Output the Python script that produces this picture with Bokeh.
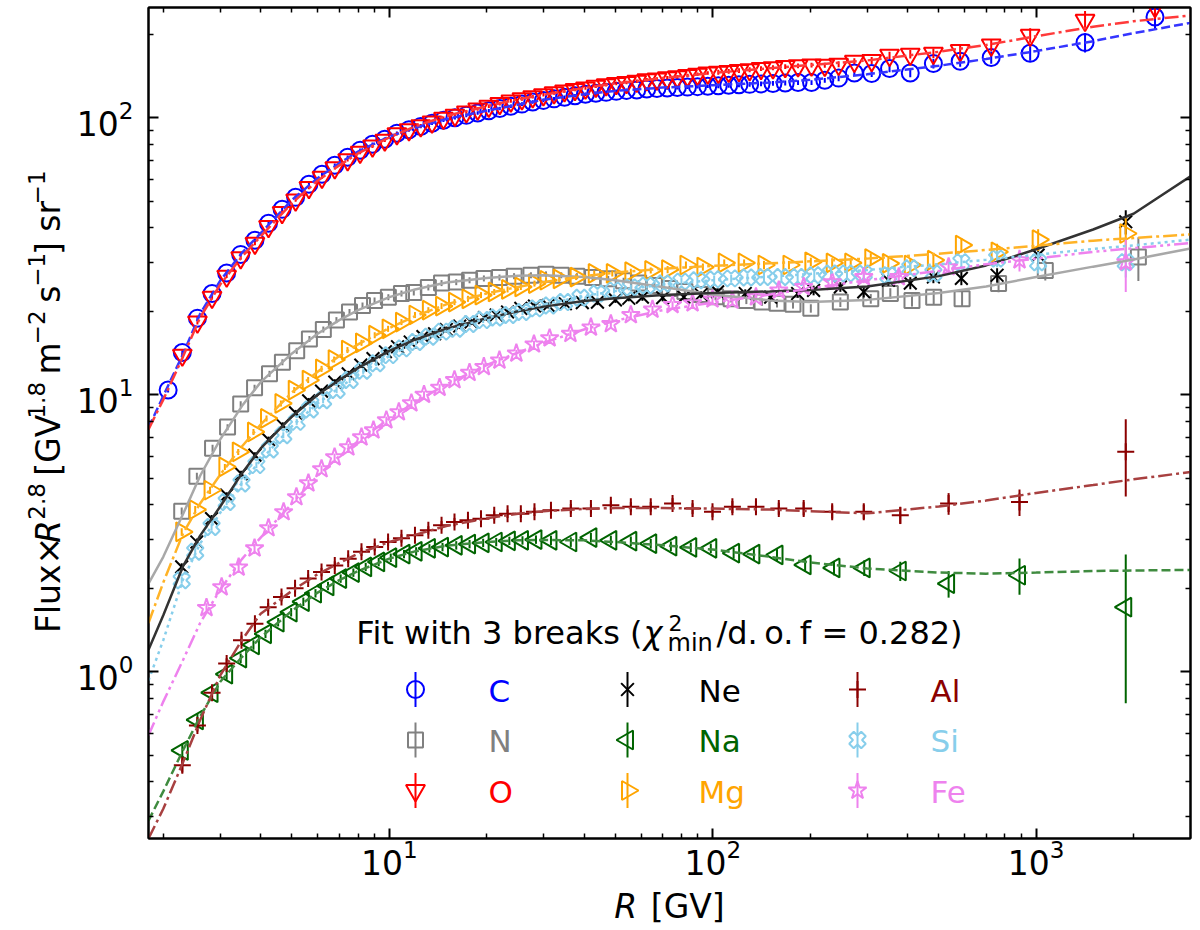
import numpy as np
from bokeh.plotting import figure
from bokeh.layouts import column, row
from bokeh.models import LogAxis, FixedTicker, Label, CustomJSTickFormatter
from bokeh.core.properties import value
from bokeh.embed import file_html
from bokeh.resources import INLINE

# ---- data: rigidity R [GV], Flux x R^2.8, relative error [%] ----
R_C = [2.07, 2.29, 2.55, 2.83, 3.14, 3.47, 3.84, 4.23, 4.66, 5.13,
       5.64, 6.19, 6.78, 7.43, 8.12, 8.87, 9.68, 10.55, 11.5, 12.5,
       13.55, 14.7, 15.95, 17.3, 18.75, 20.3, 21.95, 23.75, 25.7, 27.75,
       29.95, 32.3, 34.8, 37.5, 40.4, 43.5, 46.8, 50.3, 54.1, 58.2,
       62.5, 67.2, 72.3, 77.7, 83.5, 89.7, 96.5, 104, 112, 120.5,
       130, 141, 153.5, 167.5, 183.5, 202, 222, 245, 274, 310,
       352, 408, 481, 582, 726, 958, 1416, 2330]
F_C = [10.4, 14.2, 18.9, 23.2, 27.5, 32.1, 36.1, 41.6, 46.7, 51.6,
       57.5, 62.5, 67.4, 72.0, 76.3, 80.2, 83.6, 87.9, 90.5, 93,
       95.5, 98, 100, 102, 104, 106, 108, 110, 112, 114,
       115.5, 117, 118.5, 120, 121.5, 122.5, 123.5, 124.5, 125.5, 126,
       127, 127.5, 128, 128.5, 129, 129.5, 130, 130.5, 131, 131.5,
       132, 132.5, 133, 133.5, 134, 134, 136.5, 139, 145, 144.5,
       150.6, 145, 157, 160, 165, 171, 187, 231]
E_C = [2, 2, 2, 2, 1.5, 1.5, 1.5, 1.5, 1.5, 1.5,
       1.5, 1.5, 1.5, 1.5, 1.5, 1.5, 1.5, 1.5, 1.5, 1.5,
       1.5, 1.5, 1.5, 1.5, 1.5, 1.5, 1.5, 1.5, 1.5, 1.5,
       1.5, 1.5, 1.5, 1.5, 1.5, 1.5, 1.5, 1.5, 1.5, 1.5,
       1.5, 1.5, 1.5, 1.5, 1.5, 1.5, 1.5, 2, 2, 2,
       2, 2, 2, 2, 2, 2, 2, 2.5, 2.5, 3,
       3, 3.5, 4, 4.5, 5, 6, 8, 10]

R_O = R_C[1:]
F_O = [13.9, 18.3, 22.5, 26.8, 31.2, 35.2, 40.5, 45.5, 50.5, 56,
       61, 66, 70.5, 75, 79, 83, 87.5, 90.5, 93.5, 96.5,
       99.5, 102, 105, 107.5, 110, 112.5, 115, 117, 119, 121,
       123, 125, 126.5, 128, 130, 131.5, 133, 134, 135.5, 137,
       138, 139.5, 140.5, 142, 143.5, 145, 146, 147, 148, 149,
       150.5, 151.5, 153, 154, 155, 154.7, 156, 160, 161, 168,
       169.6, 171, 175, 183, 198.6, 225, 252]
E_O = E_C[1:]

R_N = [2.28, 2.54, 2.84, 3.16, 3.47, 3.83, 4.26, 4.67, 5.17, 5.66,
       6.25, 6.86, 7.53, 8.26, 9.0, 9.93, 10.9, 11.9, 13.2, 14.5,
       16.1, 17.7, 19.6, 21.9, 24.3, 27.4, 30.5, 34, 38, 42.5,
       47.5, 53, 59, 66, 73.5, 82, 91.5, 102, 114, 127,
       142, 158, 177, 201, 248, 308, 354, 413, 482, 590,
       765, 1067, 2070]
F_N = [3.80, 5.08, 6.41, 7.64, 9.25, 10.6, 11.9, 13.1, 14.4, 15.9,
       17.2, 18.6, 19.9, 21.0, 21.9, 22.5, 23.2, 23.4, 24.4, 25.3,
       25.5, 25.9, 26.3, 26.5, 26.8, 27.0, 27.2, 27.0, 26.8, 26.5,
       26.2, 25.8, 25.3, 24.8, 24.2, 23.6, 23.0, 22.6, 22.2, 21.9,
       21.6, 21.4, 21.2, 20.5, 21.6, 22.2, 23.2, 21.9, 22.5, 22.2,
       25.2, 28.1, 31.4]
E_N = [3, 3, 3, 2.5, 2.5, 2.5, 2.5, 2.5, 2.5, 2.5,
       2.5, 2.5, 2.5, 2.5, 2.5, 2.5, 2.5, 2.5, 2.5, 2.5,
       2.5, 2.5, 2.5, 2.5, 2.5, 2.5, 2.5, 2.5, 2.5, 2.5,
       2.5, 2.5, 2.5, 2.5, 2.5, 3, 3, 3, 3, 3,
       3, 3.5, 3.5, 3.5, 4, 4, 4.5, 5, 5.5, 6,
       7, 8, 18]

R_NE = [2.28, 2.54, 2.82, 3.14, 3.48, 3.84, 4.23, 4.68, 5.13, 5.63,
        6.17, 6.78, 7.46, 8.16, 8.9, 9.72, 10.6, 11.6, 12.7, 13.8,
        15.0, 16.5, 17.9, 19.7, 21.4, 23.2, 25.5, 28.1, 31, 35,
        39.5, 44, 50, 55, 60.6, 70, 81.4, 92, 103.5, 126,
        151, 183, 205, 248, 293, 349, 408, 481, 587, 757,
        1014, 1892]
F_NE = [2.39, 2.94, 3.57, 4.34, 5.19, 6.05, 6.89, 7.76, 8.60, 9.50,
        10.3, 11.1, 11.9, 12.8, 13.5, 14.3, 14.9, 15.5, 16.2, 16.6,
        17.2, 17.7, 18.3, 19.0, 19.4, 19.9, 20.5, 20.9, 21.0, 21.3,
        21.5, 21.6, 22.0, 22.3, 22.5, 22.4, 22.5, 23.0, 23.5, 23.2,
        22.5, 23.2, 23.8, 24.5, 23.5, 25.9, 25.3, 26.6, 26.3, 27.0,
        31.9, 42.1]
E_NE = [3, 3, 3, 2.5, 2.5, 2.5, 2.5, 2.5, 2.5, 2.5,
        2.5, 2.5, 2.5, 2.5, 2.5, 2.5, 2.5, 2.5, 2.5, 2.5,
        2.5, 2.5, 2.5, 2.5, 2.5, 2.5, 2.5, 2.5, 2.5, 2.5,
        2.5, 2.5, 2.5, 2.5, 3, 3, 3, 3, 3, 3.5,
        3.5, 3.5, 4, 4, 4.5, 4.5, 5, 5, 5.5, 6,
        7, 10]

R_NA = [2.29, 2.55, 2.83, 3.14, 3.47, 3.80, 4.14, 4.53, 4.97, 5.42,
        5.91, 6.46, 7.07, 7.74, 8.45, 9.27, 10.1, 11.1, 12.1, 13.3,
        14.6, 16.1, 17.7, 19.5, 21.4, 23.5, 25.8, 28.4, 31.6, 36.4,
        42.0, 48.4, 55.8, 64.3, 74.2, 85.5, 98.6, 116, 134, 158,
        193, 237, 294, 380, 536, 888, 1892]
F_NA = [0.52, 0.67, 0.84, 0.98, 1.12, 1.25, 1.37, 1.51, 1.64, 1.79,
        1.92, 2.04, 2.17, 2.28, 2.39, 2.49, 2.58, 2.66, 2.72, 2.79,
        2.82, 2.86, 2.89, 2.92, 2.94, 2.97, 2.98, 3.00, 2.98, 2.94,
        3.05, 2.98, 2.96, 2.90, 2.84, 2.81, 2.79, 2.68, 2.66, 2.64,
        2.43, 2.37, 2.37, 2.31, 2.08, 2.23, 1.71]
E_NA = [6, 5, 5, 4.5, 4, 4, 3.5, 3.5, 3.5, 3.5,
        3.5, 3.5, 3.5, 3.5, 3.5, 3.5, 3.5, 3.5, 3.5, 3.5,
        3.5, 3.5, 3.5, 3.5, 3.5, 3.5, 3.5, 3.5, 4, 4,
        4, 4, 4, 4, 4, 4, 4, 4.5, 5, 5,
        5.5, 6, 6.5, 8, 11, 15, 55]

R_MG = [2.28, 2.51, 2.79, 3.10, 3.41, 3.80, 4.17, 4.62, 5.08, 5.61,
        6.17, 6.75, 7.42, 8.2, 9.01, 9.91, 10.9, 12.0, 13.2, 14.5,
        15.9, 17.5, 19.2, 21.1, 23.2, 25.5, 28.1, 30.5, 33.5, 37.8,
        43.0, 48.9, 55.8, 64.3, 72.5, 82.6, 93.2, 108.5, 125, 144,
        172, 201, 234, 267, 308, 349, 408, 481, 587, 757,
        1014, 1892]
F_MG = [3.20, 3.85, 4.52, 5.49, 6.22, 7.34, 8.21, 9.30, 10.4, 11.3,
        12.4, 13.4, 14.5, 15.4, 16.4, 17.3, 18.3, 19.4, 20.2, 20.9,
        21.6, 22.2, 22.9, 23.5, 24.0, 24.5, 25.2, 25.9, 26.2, 26.6,
        27.4, 27.4, 27.8, 28.1, 28.3, 29.4, 28.9, 29.9, 29.9, 29.4,
        29.4, 30.2, 29.9, 29.9, 31.0, 29.8, 29.4, 30.6, 34.7, 32.8,
        36.3, 38.2]
E_MG = [3, 3, 3, 2.5, 2.5, 2.5, 2.5, 2.5, 2.5, 2.5,
        2.5, 2.5, 2.5, 2.5, 2.5, 2.5, 2.5, 2.5, 2.5, 2.5,
        2.5, 2.5, 2.5, 2.5, 2.5, 2.5, 2.5, 2.5, 2.5, 2.5,
        2.5, 2.5, 2.5, 2.5, 3, 3, 3, 3, 3, 3.5,
        3.5, 3.5, 4, 4, 4.5, 4.5, 5, 5.5, 6, 7,
        9, 14]

R_AL = [2.29, 2.55, 2.83, 3.14, 3.49, 3.84, 4.22, 4.64, 5.11, 5.61,
        6.17, 6.78, 7.46, 8.2, 9.01, 9.91, 10.9, 12.0, 13.2, 14.5,
        15.9, 17.5, 19.2, 21.1, 23.2, 25.5, 28.1, 31.6, 36.4, 42.0,
        48.4, 55.8, 64.3, 75.1, 86.6, 99.8, 115, 136, 160, 191,
        234, 293, 380, 536, 888, 1892]
F_AL = [0.46, 0.64, 0.84, 1.07, 1.30, 1.49, 1.71, 1.86, 2.00, 2.17,
        2.29, 2.42, 2.56, 2.71, 2.82, 2.94, 3.03, 3.11, 3.24, 3.38,
        3.47, 3.52, 3.57, 3.67, 3.72, 3.72, 3.78, 3.83, 3.88, 3.88,
        3.99, 3.94, 3.94, 4.05, 3.88, 3.78, 3.94, 3.94, 3.88, 3.88,
        3.78, 3.78, 3.67, 4.05, 4.10, 6.22]
E_AL = [6, 5, 5, 4.5, 4, 4, 3.5, 3.5, 3.5, 3.5,
        3.5, 3.5, 3.5, 3.5, 3.5, 3.5, 3.5, 3.5, 3.5, 3.5,
        3.5, 3.5, 3.5, 3.5, 3.5, 3.5, 3.5, 4, 4, 4,
        4, 4, 4, 4.5, 4.5, 4.5, 5, 5, 5, 5.5,
        5.5, 6, 7, 9, 11, 31]

R_SI = [2.28, 2.51, 2.82, 3.14, 3.49, 3.88, 4.27, 4.70, 5.17, 5.68,
        6.24, 6.87, 7.54, 8.30, 9.12, 10.0, 11.0, 12.1, 13.3, 14.6,
        16.1, 17.7, 19.5, 21.4, 23.5, 25.8, 28.4, 31.3, 34.7, 39,
        44, 49.5, 55.8, 62.5, 70.6, 80, 89.6, 101, 114, 128,
        144, 163, 183, 206, 232, 260, 293, 349, 408, 481,
        587, 757, 1014, 1892]
F_SI = [2.14, 2.71, 3.33, 4.10, 4.78, 5.57, 6.34, 7.14, 7.98, 8.84,
        9.55, 10.4, 11.3, 12.2, 13.0, 13.9, 14.7, 15.5, 16.2, 16.9,
        17.3, 18.0, 18.6, 19.0, 19.4, 19.9, 20.5, 21.0, 21.6, 22.4,
        23.2, 23.8, 24.4, 24.8, 25.2, 25.6, 25.9, 26.1, 26.3, 26.5,
        26.6, 26.6, 26.6, 27.0, 27.4, 27.4, 27.4, 27.0, 28.6, 27.4,
        30.1, 31.0, 30.1, 30.1]
E_SI = [3, 3, 3, 2.5, 2.5, 2.5, 2.5, 2.5, 2.5, 2.5,
        2.5, 2.5, 2.5, 2.5, 2.5, 2.5, 2.5, 2.5, 2.5, 2.5,
        2.5, 2.5, 2.5, 2.5, 2.5, 2.5, 2.5, 2.5, 2.5, 2.5,
        2.5, 2.5, 2.5, 2.5, 3, 3, 3, 3, 3, 3,
        3.5, 3.5, 3.5, 4, 4, 4, 4.5, 4.5, 5, 5,
        6, 7, 9, 12]

R_FE = [2.72, 3.03, 3.42, 3.83, 4.23, 4.71, 5.16, 5.62, 6.17, 6.77,
        7.47, 8.20, 8.93, 9.79, 10.7, 11.7, 12.8, 14.3, 15.9, 17.7,
        19.6, 21.9, 24.7, 28.0, 31.3, 36.3, 42.0, 48.4, 55.8, 65.1,
        75.1, 86.6, 99.8, 115, 136, 160, 191, 234, 293, 376,
        536, 888, 1892]
F_FE = [1.70, 2.02, 2.38, 2.79, 3.30, 3.77, 4.27, 4.79, 5.39, 5.95,
        6.46, 7.02, 7.44, 8.09, 8.65, 9.32, 10.0, 10.6, 11.3, 12.0,
        12.6, 13.3, 14.1, 15.2, 16.0, 16.6, 17.5, 18.0, 19.4, 20.3,
        21.1, 21.4, 22.1, 21.9, 22.5, 23.8, 24.5, 25.5, 26.6, 26.6,
        28.9, 30.6, 30.1]
E_FE = [4, 4, 3.5, 3.5, 3, 3, 3, 3, 3, 3,
        3, 3, 3, 3, 3, 3, 3, 3, 3, 3,
        3, 3, 3, 3, 3, 3, 3, 3, 3, 3,
        3, 3, 3.5, 3.5, 3.5, 4, 4, 4.5, 5, 5.5,
        6, 9, 22]

# fitted curves (3 breaks)
R_FIT = [1.8, 2, 2.3, 2.6, 3, 3.5, 4, 5, 6, 7,
         8, 10, 12, 15, 20, 25, 30, 40, 50, 70,
         100, 150, 200, 300, 500, 700, 1000, 1500, 2000, 3000]
FIT_C = [7.6, 9.9, 14.0, 19.6, 25.8, 32.5, 38.3, 50.5, 60.5, 68.5,
         75.5, 85.5, 92, 99, 106, 111.5, 116, 121.5, 125, 128.5,
         131, 134, 137, 143.5, 154, 163, 174, 189, 202, 220]
FIT_O = [7.5, 9.6, 13.7, 19.0, 25.0, 31.5, 37.3, 49.2, 59.2, 67.3,
         74.3, 85, 93, 101.5, 110, 116.5, 121, 128, 133, 139,
         145, 151, 155, 161, 173, 183, 197, 213, 223, 234]
FIT_N = [2.08, 2.6, 3.7, 5.1, 6.9, 9.1, 11.1, 14.1, 16.6, 18.6,
         20.2, 22.5, 24.0, 25.4, 26.4, 26.9, 27.0, 26.6, 25.9, 24.5,
         23.0, 21.9, 21.6, 22.0, 23.3, 24.6, 26.6, 29.0, 30.8, 33.7]
FIT_NE = [1.2, 1.6, 2.4, 3.1, 3.95, 5.2, 6.4, 8.35, 10.0, 11.3,
          12.5, 14.4, 15.8, 17.3, 18.9, 20.0, 20.8, 21.8, 22.3, 22.9,
          23.3, 23.6, 23.9, 24.6, 26.8, 29.3, 33.5, 39.5, 45, 61.5]
FIT_NA = [0.29, 0.37, 0.52, 0.69, 0.92, 1.13, 1.33, 1.66, 1.93, 2.14,
          2.31, 2.56, 2.72, 2.85, 2.94, 2.98, 2.99, 2.98, 2.94, 2.86,
          2.76, 2.6, 2.48, 2.36, 2.28, 2.26, 2.28, 2.31, 2.32, 2.33]
FIT_MG = [1.5, 2.1, 3.15, 4.05, 5.15, 6.5, 7.8, 10.2, 12.1, 13.8,
          15.2, 17.4, 19.2, 21.2, 23.2, 24.5, 25.5, 26.8, 27.6, 28.5,
          29.2, 29.8, 30.3, 31.0, 32.3, 33.3, 34.5, 36.0, 36.8, 37.9]
FIT_AL = [0.25, 0.32, 0.47, 0.67, 0.97, 1.30, 1.62, 1.96, 2.25, 2.47,
          2.67, 2.94, 3.12, 3.36, 3.58, 3.72, 3.8, 3.87, 3.9, 3.9,
          3.88, 3.85, 3.8, 3.73, 3.95, 4.15, 4.42, 4.72, 4.95, 5.26]
FIT_SI = [0.93, 1.3, 2.15, 2.9, 3.75, 4.8, 5.8, 7.7, 9.3, 10.6,
          11.8, 13.8, 15.4, 17.0, 18.9, 20.2, 21.2, 22.7, 23.7, 25.0,
          25.9, 26.7, 27.3, 28.2, 29.6, 30.7, 32.0, 33.6, 34.6, 36.3]
FIT_FE = [0.59, 0.78, 1.1, 1.5, 1.98, 2.55, 3.05, 4.05, 5.1, 6.0,
          6.8, 8.2, 9.4, 10.9, 12.8, 14.2, 15.4, 17.2, 18.5, 20.2,
          21.5, 23.0, 24.2, 25.9, 28.0, 29.6, 31.0, 32.8, 33.8, 35.3]

# legend order follows the columns of the reference (C, N, O | Ne, Na, Mg | Al, Si, Fe)
SERIES = [
    # name, R, F, err, colour, marker, size, angle, fit, fit colour, fit dash
    ("C", R_C, F_C, E_C, "blue", "circle", 17, 0, FIT_C, "#3535ff", "9 4"),
    ("N", R_N, F_N, E_N, "grey", "square", 15, 0, FIT_N, "#a8a8a8", "solid"),
    ("O", R_O, F_O, E_O, "red", "inverted_triangle", 19, 0, FIT_O, "#ff3a3a", "14 4 3 4"),
    ("Ne", R_NE, F_NE, E_NE, "black", "x", 18, 0, FIT_NE, "#333333", "solid"),
    ("Na", R_NA, F_NA, E_NA, "darkgreen", "triangle", 19, np.pi / 2, FIT_NA, "#3f8b3f", "9 4"),
    ("Mg", R_MG, F_MG, E_MG, "orange", "triangle", 19, -np.pi / 2, FIT_MG, "#ffb327", "14 4 3 4"),
    ("Al", R_AL, F_AL, E_AL, "darkred", "cross", 17, 0, FIT_AL, "#a84040", "14 4 3 4"),
    ("Si", R_SI, F_SI, E_SI, "skyblue", "plus", 17, np.pi / 4, FIT_SI, "#87ceeb", "3 4"),
    ("Fe", R_FE, F_FE, E_FE, "violet", "star", 19, 0, FIT_FE, "#ee82ee", "14 4 3 4 3 4"),
]

XMIN, XMAX = 1.8, 3000
YMIN, YMAX = 0.25, 250
FW, FH = 1042, 831
FONT = "DejaVu Sans"
YLAB_W = 68              # strip left of the plot holding the y label
TOP, BOTTOM, RIGHT = 7, 50, 8
LEFT = 148 - YLAB_W
MAIN_H = TOP + FH + BOTTOM
TOTAL_W = YLAB_W + LEFT + FW + RIGHT
XLAB_H = 930 - MAIN_H
BASE_FIX = 0.33          # empirical lift for alphabetic baselines (em)

p = figure(x_axis_type="log", y_axis_type="log",
           x_range=(XMIN, XMAX), y_range=(YMIN, YMAX),
           frame_width=FW, frame_height=FH,
           min_border_left=LEFT, min_border_right=RIGHT,
           min_border_top=TOP, min_border_bottom=BOTTOM,
           output_backend="svg", toolbar_location=None)
p.grid.visible = False
p.outline_line_color = "black"
p.outline_line_width = 2
p.background_fill_color = "white"
p.border_fill_color = "white"

xt = FixedTicker(ticks=[10, 100, 1000],
                 minor_ticks=[m * 10 ** e for e in range(0, 4) for m in range(2, 10)
                              if XMIN < m * 10 ** e < XMAX])
yt = FixedTicker(ticks=[1, 10, 100],
                 minor_ticks=[m * 10 ** e for e in range(-1, 3) for m in range(2, 10)
                              if YMIN < m * 10 ** e < YMAX])


def style_axis(ax):
    ax.axis_line_width = 2
    ax.major_tick_in = 10
    ax.major_tick_out = 0
    ax.minor_tick_in = 5
    ax.minor_tick_out = 0
    ax.major_tick_line_width = 2
    ax.minor_tick_line_width = 1.5
    ax.major_label_text_font = FONT
    ax.major_label_text_font_size = "33px"
    ax.major_label_text_color = "black"


bottom, left = p.below[0], p.left[0]
bottom.ticker = xt
left.ticker = yt
style_axis(bottom)
style_axis(left)
bottom.major_label_standoff = 0
left.major_label_standoff = 15

for ticker, side in ((xt, "above"), (yt, "right")):
    ax = LogAxis(ticker=ticker, formatter=CustomJSTickFormatter(code="return ''"))
    style_axis(ax)
    ax.major_label_text_font_size = "1px"
    ax.major_label_standoff = 0
    p.add_layout(ax, side)

# ---- data points with error bars, then the fits on top ----
for name, R, F, E, col, mk, sz, ang, fit, fcol, dash in SERIES:
    F = np.asarray(F, float)
    e = np.asarray(E, float) / 100
    p.segment(x0=R, y0=F * (1 - e), x1=R, y1=F * (1 + e), line_color=col, line_width=2)
    p.scatter(x=R, y=F, marker=mk, size=sz, angle=ang, line_color=col,
              fill_color=None, line_width=2)

for name, R, F, E, col, mk, sz, ang, fit, fcol, dash in SERIES:
    p.line(R_FIT, fit, line_color=fcol, line_width=2.5, line_dash=dash)

# ---- text helpers (DejaVu Sans advance widths, em units) ----
ADV = {' ': 0.318, '\u2009': 0.2, 'F': 0.575, 'l': 0.278, 'u': 0.634, 'x': 0.592,
       '×': 0.838, 'R': 0.695, '[': 0.390, ']': 0.390, 'G': 0.776, 'V': 0.684,
       'm': 0.974, 's': 0.521, 'r': 0.411, '−': 0.838, '.': 0.318, '/': 0.337,
       'd': 0.635, 'o': 0.612, 'f': 0.352, '=': 0.838, '(': 0.390, ')': 0.390,
       'i': 0.278, 't': 0.392, 'w': 0.818, 'h': 0.634, 'b': 0.635, 'e': 0.615,
       'a': 0.613, 'k': 0.579, 'n': 0.634, 'χ': 0.600}


def text_w(s, size):
    return sum(ADV.get(c, 0.636) for c in s) * size


def label(x, y, text, size, italic=False, color="black", align="left"):
    p.add_layout(Label(x=x, y=y + BASE_FIX * size, x_units="screen", y_units="screen",
                       text=text, text_font=FONT, text_font_size=f"{size}px",
                       text_font_style="italic" if italic else "normal",
                       text_color=color, text_align=align, text_baseline="alphabetic"))


def strip(width, height):
    f = figure(width=width, height=height, x_range=(0, width), y_range=(0, height),
               min_border=0, x_axis_location=None, y_axis_location=None,
               output_backend="svg", toolbar_location=None)
    f.grid.visible = False
    f.outline_line_color = None
    f.background_fill_color = "white"
    f.border_fill_color = "white"
    return f


def draw_pieces(f, pieces, x0, y0, vertical=False, gap=2):
    # SVG drops leading blanks, so a leading space is turned into an offset
    pos = 0.0
    for text, size, italic, shift in pieces:
        body = text.lstrip(" ")
        pos += text_w(text[:len(text) - len(body)], size)
        fix = BASE_FIX * size
        if vertical:
            x, y = x0 - shift - fix, y0 + pos
        else:
            x, y = x0 + pos, y0 + shift + fix
        f.text(x=[x], y=[y], text=[body],
               text_font=value(FONT), text_font_size=value(f"{size}px"),
               text_font_style="italic" if italic else "normal",
               text_color="black", text_align="left", text_baseline="alphabetic",
               angle=np.pi / 2 if vertical else 0)
        pos += text_w(body, size) + (gap if italic else 0)


def pieces_len(pieces, gap=2):
    return sum(text_w(t, s) + (gap if i else 0) for t, s, i, _ in pieces)


YLAB = [("Flux×", 33, False, 0), ("R", 33, True, 0), ("2.8", 23, False, 15),
        (" [GV", 33, False, 0), ("1.8", 23, False, 15), (" m", 33, False, 0),
        ("−2", 23, False, 15), (" s", 33, False, 0), ("−1", 23, False, 15),
        ("] sr", 33, False, 0), ("−1", 23, False, 15)]
ylab = strip(YLAB_W, MAIN_H)
draw_pieces(ylab, YLAB, 59, BOTTOM + FH / 2 - pieces_len(YLAB) / 2, vertical=True)

XLAB = [("R", 33, True, 0), (" [GV]", 33, False, 0)]
xlab = strip(TOTAL_W, XLAB_H)
draw_pieces(xlab, XLAB, YLAB_W + LEFT + FW / 2 - pieces_len(XLAB, 3) / 2, XLAB_H - 29, gap=3)

# ---- legend ----
TY = 195
label(494, TY, "Fit with 3 breaks (", 32, align="right")
label(495, TY, "χ", 32, italic=True)
label(520, TY + 13, "2", 22)
label(519, TY - 7, "min", 24)
label(568, TY, "/d.\u2009o.\u2009f", 32)
label(673, TY, "= 0.282)", 32)

MARK_X = [267, 479, 709]
TEXT_X = [340, 550, 782]
ROW_Y = [149, 98.5, 48]
lx0, lx1 = np.log10(XMIN), np.log10(XMAX)
ly0, ly1 = np.log10(YMIN), np.log10(YMAX)
for i, (name, R, F, E, col, mk, sz, ang, fit, fcol, dash) in enumerate(SERIES):
    c, r = divmod(i, 3)
    hx = 10 ** (lx0 + MARK_X[c] / FW * (lx1 - lx0))
    hy = 10 ** (ly0 + ROW_Y[r] / FH * (ly1 - ly0))
    d = 10 ** (17.5 / FH * (ly1 - ly0))
    p.segment(x0=[hx], y0=[hy / d], x1=[hx], y1=[hy * d], line_color=col, line_width=2)
    p.scatter(x=[hx], y=[hy], marker=mk, size=sz, angle=ang, line_color=col,
              fill_color=None, line_width=2)
    label(TEXT_X[c], ROW_Y[r] - 11.5, name, 31, color=col)

layout = column(row(ylab, p), xlab)
open("out.html", "w").write(file_html(layout, INLINE))
